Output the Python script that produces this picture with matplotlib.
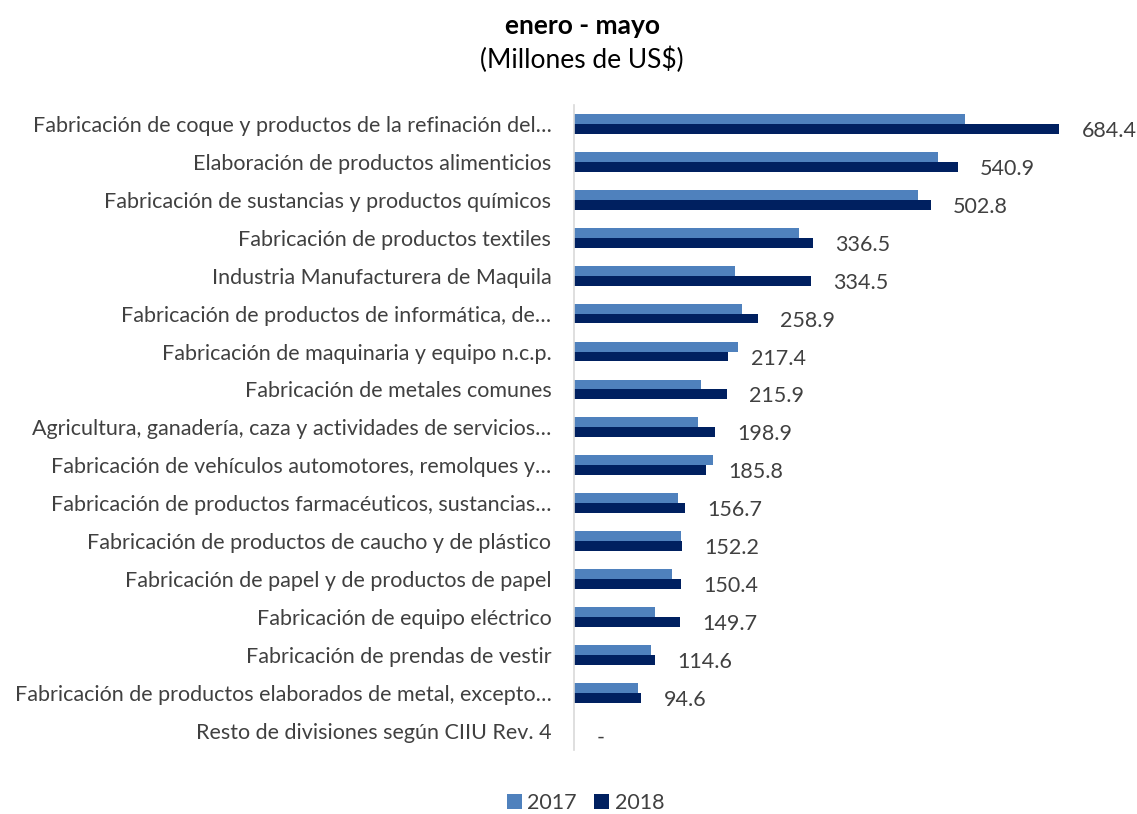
import numpy as np
import matplotlib.pyplot as plt

plt.rcParams['font.family'] = ['Lato', 'DejaVu Sans']

# Datos (millones de US$), enero - mayo
categorias = [
    "Fabricación de coque y productos de la refinación del…",
    "Elaboración de productos alimenticios",
    "Fabricación de sustancias y productos químicos",
    "Fabricación de productos textiles",
    "Industria Manufacturera de Maquila",
    "Fabricación de productos de informática, de…",
    "Fabricación de maquinaria y equipo n.c.p.",
    "Fabricación de metales comunes",
    "Agricultura, ganadería, caza y actividades de servicios…",
    "Fabricación de vehículos automotores, remolques y…",
    "Fabricación de productos farmacéuticos, sustancias…",
    "Fabricación de productos de caucho y de plástico",
    "Fabricación de papel y de productos de papel",
    "Fabricación de equipo eléctrico",
    "Fabricación de prendas de vestir",
    "Fabricación de productos elaborados de metal, excepto…",
    "Resto de divisiones según CIIU Rev. 4",
]
valores_2017 = [551.7, 513.6, 485.4, 317.5, 227.2, 237.0, 231.4, 179.2, 175.0,
                196.1, 146.7, 151.0, 138.3, 114.3, 108.6, 90.3, 0.0]
valores_2018 = [684.4, 540.9, 502.8, 336.5, 334.5, 258.9, 217.4, 215.9, 198.9,
                185.8, 156.7, 152.2, 150.4, 149.7, 114.6, 94.6, 0.0]
etiquetas_2018 = ["684.4", "540.9", "502.8", "336.5", "334.5", "258.9", "217.4",
                  "215.9", "198.9", "185.8", "156.7", "152.2", "150.4", "149.7",
                  "114.6", "94.6", "-"]

color_2017 = "#4F81BD"
color_2018 = "#002060"
gris_texto = "#404040"

fig = plt.figure(figsize=(11.37, 8.14), dpi=100)
ax = fig.add_axes([0.505, 0.079, 0.495, 0.792])

y = np.arange(len(categorias))
alto = 0.26

ax.barh(y - alto / 2, valores_2017, height=alto, color=color_2017, label="2017")
ax.barh(y + alto / 2, valores_2018, height=alto, color=color_2018, label="2018")

for yi, v, txt in zip(y, valores_2018, etiquetas_2018):
    ax.annotate(txt, xy=(v, yi + alto / 2), xytext=(16, -1.5), textcoords="offset points",
                ha="left", va="center", fontsize=15.5, color=gris_texto)

ax.set_yticks(y)
ax.set_yticklabels(categorias, fontsize=15.5, color=gris_texto)
ax.tick_params(axis="y", length=0, pad=16.5)
ax.set_xticks([])
ax.set_xlim(0, 794)
ax.set_ylim(len(categorias) - 0.5, -0.5)

for s in ["top", "right", "bottom"]:
    ax.spines[s].set_visible(False)
ax.spines["left"].set_color("#D9D9D9")
ax.spines["left"].set_linewidth(1.2)

fig.text(0.512, 0.968, "enero - mayo", ha="center", va="center",
         fontsize=19, fontweight="bold", color="black")
fig.text(0.512, 0.926, "(Millones de US\\$)", ha="center", va="center",
         fontsize=19, color="black")

fig.legend(loc="center", bbox_to_anchor=(0.515, 0.014), ncol=2, frameon=False,
           fontsize=15.5, handlelength=0.7, handleheight=0.7, handletextpad=0.25,
           columnspacing=0.8, labelcolor=gris_texto, borderpad=0)

fig.savefig("out.png", dpi=100)
